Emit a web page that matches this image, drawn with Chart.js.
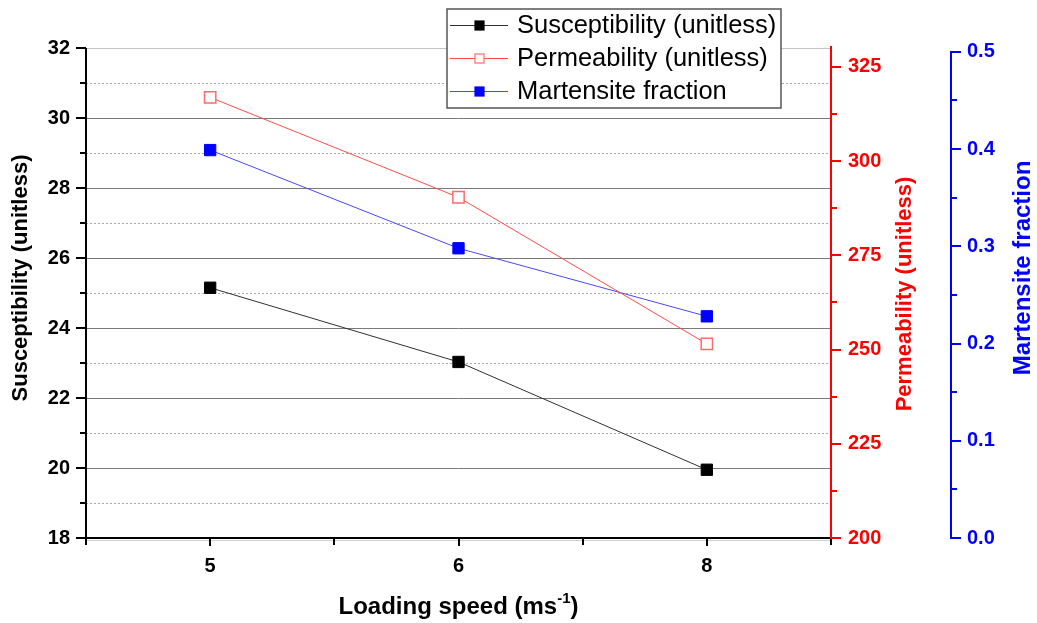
<!DOCTYPE html>
<html>
<head>
<meta charset="utf-8">
<script src="https://cdn.jsdelivr.net/npm/chart.js@4.4.0/dist/chart.umd.min.js"></script>
<style>
  html, body { margin: 0; padding: 0; background: #fff; }
  #wrap { width: 1037px; height: 623px; }
</style>
</head>
<body>
<div id="wrap"><canvas id="chart" width="1037" height="623"></canvas></div>
<script>
// --- data ---
const speeds = ['5', '6', '8'];
const susceptibility = [25.15, 23.03, 19.95];
const permeability = [316.9, 290.4, 251.5];
const martensite = [0.399, 0.298, 0.228];

// tick labels of the three y axes
const suscTicks = [18, 20, 22, 24, 26, 28, 30, 32];
const permTicks = [200, 225, 250, 275, 300, 325];
const martTicks = [0.0, 0.1, 0.2, 0.3, 0.4, 0.5];

const FONT = "'Liberation Sans', Arial, sans-serif";
const BLACK = '#000000';
const RED = '#ff0000';
const BLUE = '#0000ff';

function midpoints(arr) {
    const out = [];
    for (let i = 0; i < arr.length - 1; i++) out.push((arr[i] + arr[i + 1]) / 2);
    return out;
}

// axis lines, tick marks (major + minor) and grid, drawn like the Origin plot
const axesPlugin = {
    id: 'originAxes',
    beforeDatasetsDraw(chart) {
        const { ctx, chartArea: a } = chart;
        const ys = chart.scales.y;
        ctx.save();
        ctx.lineWidth = 1;
        for (let v = 19; v <= 32; v++) {
            const y = Math.round(ys.getPixelForValue(v)) + 0.5;
            if (v % 2 === 1) {
                ctx.strokeStyle = '#a8a8a8';
                ctx.setLineDash([2, 2]);
            } else {
                ctx.strokeStyle = v === 32 ? '#c4c4c4' : '#7a7a7a';
                ctx.setLineDash([]);
            }
            ctx.beginPath();
            ctx.moveTo(a.left, y);
            ctx.lineTo(a.right, y);
            ctx.stroke();
        }
        // faint shadow line under the bottom axis
        ctx.setLineDash([]);
        ctx.strokeStyle = '#d0d0d0';
        ctx.beginPath();
        ctx.moveTo(a.left, a.bottom + 2.5);
        ctx.lineTo(a.right, a.bottom + 2.5);
        ctx.stroke();
        ctx.restore();
    },
    afterDatasetsDraw(chart) {
        const { ctx, chartArea: a } = chart;
        const xs = chart.scales.x, ys = chart.scales.y, y1 = chart.scales.y1, y2 = chart.scales.y2;
        ctx.save();
        ctx.lineWidth = 2;
        ctx.setLineDash([]);

        function hLine(x0, x1, y, color) {
            ctx.strokeStyle = color;
            ctx.beginPath();
            ctx.moveTo(x0, y);
            ctx.lineTo(x1, y);
            ctx.stroke();
        }
        function vLine(x, y0, y1_, color) {
            ctx.strokeStyle = color;
            ctx.beginPath();
            ctx.moveTo(x, y0);
            ctx.lineTo(x, y1_);
            ctx.stroke();
        }

        // bottom axis
        hLine(a.left - 1, a.right + 1, a.bottom, BLACK);
        const centers = speeds.map((s, i) => xs.getPixelForValue(i));
        centers.forEach(x => vLine(Math.round(x), a.bottom, a.bottom + 8, BLACK));
        [a.left, ...midpoints(centers), a.right].forEach(x => vLine(Math.round(x), a.bottom, a.bottom + 7, BLACK));

        // left axis
        vLine(a.left, a.top, a.bottom + 1, BLACK);
        suscTicks.forEach(v => hLine(a.left - 10, a.left, Math.round(ys.getPixelForValue(v)), BLACK));
        midpoints(suscTicks).forEach(v => hLine(a.left - 6, a.left, Math.round(ys.getPixelForValue(v)), BLACK));

        // red axis
        vLine(a.right, a.top - 2, a.bottom + 1, RED);
        permTicks.forEach(v => hLine(a.right, a.right + 10, Math.round(y1.getPixelForValue(v)), RED));
        midpoints(permTicks).forEach(v => hLine(a.right, a.right + 6, Math.round(y1.getPixelForValue(v)), RED));

        // blue axis (only spans 0 .. 0.5)
        const bx = y2.left;
        const bTop = Math.round(y2.getPixelForValue(0.5));
        const bBot = Math.round(y2.getPixelForValue(0));
        vLine(bx, bTop - 1, bBot + 1, BLUE);
        martTicks.forEach(v => hLine(bx, bx + 10, Math.round(y2.getPixelForValue(v)), BLUE));
        midpoints(martTicks).forEach(v => hLine(bx, bx + 6, Math.round(y2.getPixelForValue(v)), BLUE));
        ctx.restore();
    },
    afterDraw(chart) {
        const { ctx, chartArea: a } = chart;
        const ds = chart.data.datasets;
        ctx.save();

        // axis titles (all read bottom-to-top)
        function vTitle(text, x, y, color, size) {
            ctx.save();
            ctx.translate(x, y);
            ctx.rotate(-Math.PI / 2);
            ctx.fillStyle = color;
            ctx.font = 'bold ' + size + 'px ' + FONT;
            ctx.textAlign = 'center';
            ctx.textBaseline = 'middle';
            ctx.fillText(text, 0, 0);
            ctx.restore();
        }
        vTitle('Susceptibility (unitless)', 21, 278, BLACK, 22);
        vTitle('Permeability (unitless)', 905, 294, RED, 22);
        vTitle('Martensite fraction', 1023, 268, BLUE, 24);

        // x title with superscript
        const main = 'Loading speed (ms', sup = '-1', close = ')';
        ctx.fillStyle = BLACK;
        ctx.textBaseline = 'alphabetic';
        ctx.font = 'bold 24px ' + FONT;
        const wMain = ctx.measureText(main).width, wClose = ctx.measureText(close).width;
        ctx.font = 'bold 15px ' + FONT;
        const wSup = ctx.measureText(sup).width;
        let x = (a.left + a.right) / 2 - (wMain + wSup + wClose) / 2;
        const base = 614;
        ctx.textAlign = 'left';
        ctx.font = 'bold 24px ' + FONT;
        ctx.fillText(main, x, base);
        x += wMain;
        ctx.font = 'bold 15px ' + FONT;
        ctx.fillText(sup, x, base - 11);
        x += wSup;
        ctx.font = 'bold 24px ' + FONT;
        ctx.fillText(close, x, base);

        // legend box
        const lx = 447, ly = 9, lw = 334, lh = 99;
        ctx.fillStyle = '#ffffff';
        ctx.fillRect(lx, ly, lw, lh);
        ctx.strokeStyle = '#555555';
        ctx.lineWidth = 1.5;
        ctx.strokeRect(lx, ly, lw, lh);
        const rows = [25, 58, 91];
        ds.forEach((d, i) => {
            const y = rows[i];
            ctx.strokeStyle = d.borderColor;
            ctx.lineWidth = 1;
            ctx.beginPath();
            ctx.moveTo(450, y + 0.5);
            ctx.lineTo(508, y + 0.5);
            ctx.stroke();
            ctx.fillStyle = d.pointBackgroundColor;
            ctx.fillRect(475, y - 4, 9, 9);
            ctx.strokeStyle = d.pointBorderColor;
            ctx.lineWidth = 1.2;
            ctx.strokeRect(475, y - 4, 9, 9);
            ctx.fillStyle = BLACK;
            ctx.font = '25.5px ' + FONT;
            ctx.textAlign = 'left';
            ctx.textBaseline = 'middle';
            ctx.fillText(d.label, 517, y + 1);
        });
        ctx.restore();
    }
};

const tickFont = { family: FONT, size: 20, weight: 'bold' };

new Chart(document.getElementById('chart').getContext('2d'), {
    type: 'line',
    data: {
        labels: speeds,
        datasets: [
            {
                label: 'Susceptibility (unitless)',
                data: susceptibility,
                yAxisID: 'y',
                borderColor: '#303030',
                borderWidth: 1,
                pointStyle: 'rect',
                pointRadius: 8,
                pointBackgroundColor: '#000000',
                pointBorderColor: '#000000',
                pointBorderWidth: 1,
                tension: 0
            },
            {
                label: 'Permeability (unitless)',
                data: permeability,
                yAxisID: 'y1',
                borderColor: '#ff4a4a',
                borderWidth: 1,
                pointStyle: 'rect',
                pointRadius: 8,
                pointBackgroundColor: '#ffffff',
                pointBorderColor: '#ff6a6a',
                pointBorderWidth: 1.5,
                tension: 0
            },
            {
                label: 'Martensite fraction',
                data: martensite,
                yAxisID: 'y2',
                borderColor: '#4848ff',
                borderWidth: 1,
                pointStyle: 'rect',
                pointRadius: 8,
                pointBackgroundColor: '#0000ff',
                pointBorderColor: '#0000ff',
                pointBorderWidth: 1,
                tension: 0
            }
        ]
    },
    options: {
        responsive: false,
        animation: false,
        events: [],
        layout: { padding: { top: 48, left: 0, right: 0, bottom: 0 } },
        plugins: { legend: { display: false }, tooltip: { enabled: false } },
        scales: {
            x: {
                type: 'category',
                offset: true,
                grid: { display: false, drawTicks: false },
                border: { display: false },
                ticks: { color: BLACK, font: tickFont, padding: 16, maxRotation: 0, autoSkip: false },
                afterFit(s) { s.height = 85; }
            },
            y: {
                position: 'left',
                min: 18,
                max: 32,
                grid: { display: false, drawTicks: false },
                border: { display: false },
                ticks: { stepSize: 2, color: BLACK, font: tickFont, padding: 16 },
                afterFit(s) { s.width = 86; }
            },
            y1: {
                position: 'right',
                weight: 0,
                min: 200,
                max: 330,
                grid: { display: false, drawTicks: false },
                border: { display: false },
                afterBuildTicks(s) { s.ticks = permTicks.map(v => ({ value: v })); },
                ticks: { color: RED, font: tickFont, padding: 17 },
                afterFit(s) { s.width = 120; }
            },
            y2: {
                position: 'right',
                weight: 1,
                min: 0,
                max: 0.504,
                grid: { display: false, drawTicks: false },
                border: { display: false },
                afterBuildTicks(s) { s.ticks = martTicks.map(v => ({ value: v })); },
                ticks: { color: BLUE, font: tickFont, padding: 16, callback: v => Number(v).toFixed(1) },
                afterFit(s) { s.width = 86; }
            }
        }
    },
    plugins: [axesPlugin]
});
</script>
</body>
</html>
